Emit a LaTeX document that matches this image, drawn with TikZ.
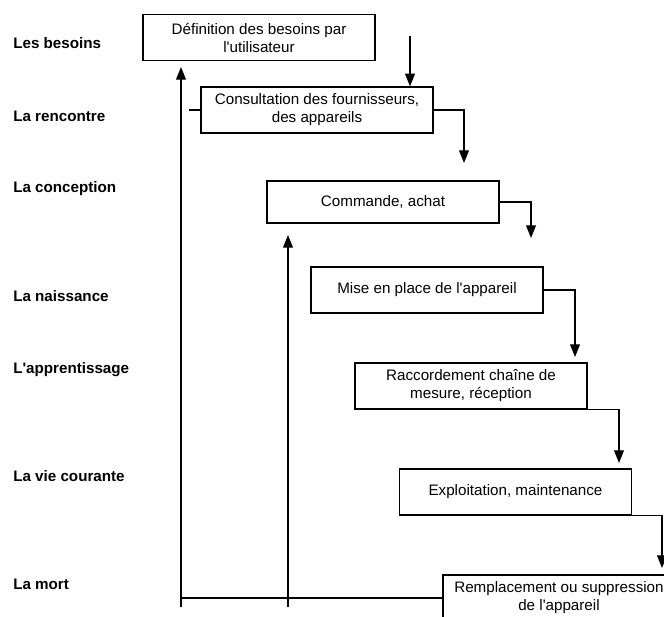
\documentclass[tikz,border=0pt]{standalone}
\usepackage{fontspec}
\setmainfont{Liberation Sans}[Ligatures=TeXOff]
\usetikzlibrary{arrows.meta}

\begin{document}
\begin{tikzpicture}[x=0.025cm, y=-0.025cm,
  etape/.style={draw, line width=0.9pt, minimum width=5.8cm, minimum height=1.15cm,
    inner sep=2pt, align=center, font=\fontsize{10.8}{12.8}\selectfont},
  phase/.style={anchor=base west, inner sep=0pt, font=\fontsize{10.8}{12.8}\selectfont\bfseries},
  fleche/.style={line width=0.9pt, ->, >={Triangle[length=9pt,width=7pt]}},
  trait/.style={line width=0.9pt}]

\clip (0,0) rectangle (664,617);

%%%%%%%%%%%%%%%%%%%
% Les phases

\node[phase] (p1) at (13,49) {Les besoins};
\node[phase] (p2) at (13,122) {La rencontre};
\node[phase] (p3) at (13,193) {La conception};
\node[phase] (p4) at (13,301) {La naissance};
\node[phase] (p5) at (13,373) {L'apprentissage};
\node[phase] (p6) at (13,481) {La vie courante};
\node[phase] (p7) at (13,589) {La mort};

%%%%%%%%%%%%%%%%%%%
% Les etapes

\node[etape] (b1) at (259,37.5) {Définition des besoins par\\l'utilisateur};
\node[etape] (b2) at (317,110) {Consultation des fournisseurs,\\des appareils};
\node[etape, minimum height=1.05cm] (b3) at (383,202) {Commande, achat};
\node[etape] (b4) at (427,290) {Mise en place de l'appareil};
\node[etape] (b5) at (471,386) {Raccordement chaîne de\\mesure, réception};
\node[etape] (b6) at (515.5,492) {Exploitation, maintenance};
\node[etape] (b7) at (559,598) {Remplacement ou suppression\\de l'appareil};

%%%%%%%%%%%%%%%%%%%
% Les fleches

\coordinate (d1) at (410,36);
\draw[fleche] (d1) -- (d1 |- b2.north);

\coordinate (e2) at (464,163);
\draw[fleche] (b2.east) -| (e2);
\coordinate (e3) at (531,238);
\draw[fleche] (b3.east) -| (e3);
\coordinate (e4) at (575,357);
\draw[fleche] (b4.east) -| (e4);
\coordinate (e5) at (619,463);
\draw[fleche] (b5.south east) -| (e5);
\coordinate (e6) at (662,568);
\draw[fleche] (b6.south east) -| (e6);

%%%%%%%%%%%%%%%%%%%
% Les retours

\coordinate (r1) at (181,607);
\coordinate (h1) at (181,67);
\draw[fleche] (r1) -- (h1);
\coordinate (r2) at (288,607);
\coordinate (h2) at (288,235);
\draw[fleche] (r2) -- (h2);
\draw[trait] (b7.west) -- (b7.west -| r1);

\coordinate (g2) at (189,110);
\draw[trait] (b2.west) -- (g2);

\end{tikzpicture}
\end{document}
